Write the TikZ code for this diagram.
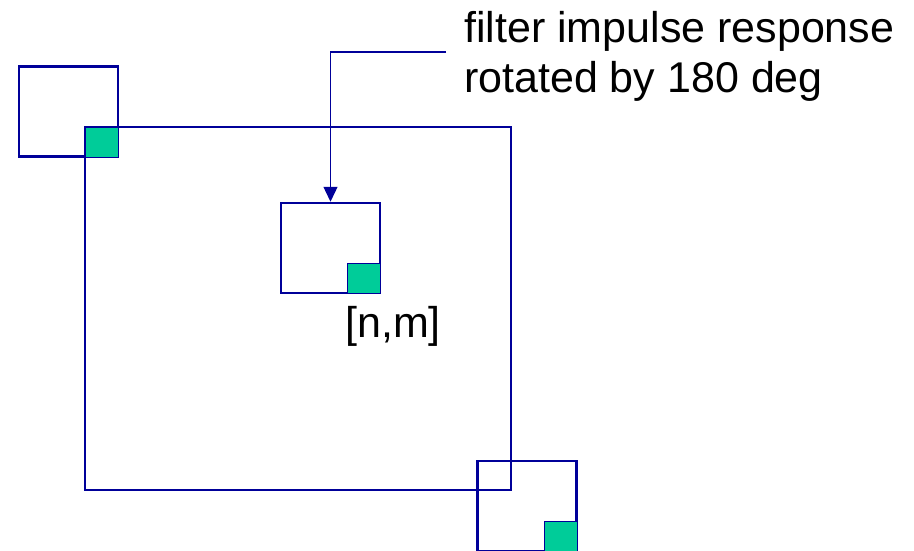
\documentclass[tikz,border=0pt]{standalone}
\usepackage{fontspec}
\setmainfont{Liberation Sans}
\usepackage{xcolor}
\usetikzlibrary{arrows.meta}
\definecolor{tnavy}{HTML}{000099}
\definecolor{tmint}{HTML}{00CC99}

\begin{document}
\begin{tikzpicture}[x=1pt, y=-1pt,
    frame/.style={draw=tnavy, line width=2.5pt, inner sep=0pt},
    kbox/.style={frame, minimum width=99pt, minimum height=90pt},
    pix/.style={draw=tnavy, line width=1pt, fill=tmint, inner sep=0pt,
                minimum width=33pt, minimum height=30pt, anchor=south east},
    lbl/.style={font=\fontsize{43}{50}\selectfont, inner sep=0pt, align=left},
    pointer/.style={draw=tnavy, line width=1.3pt, -{Triangle[width=14pt,length=15pt]}}]
    \useasboundingbox (0,0) rectangle (914,550);

    % image
    \node[frame, minimum width=426pt, minimum height=363pt] (img) at (298,308.5) {};

    % --- kernel at three places --------------------------------------------
    \node[kbox] (ktl) at (68.5,111.5) {};
    \node[kbox] (kmid) at (330.5,248) {};
    \node[kbox] (kbr) at (527,506) {};
    \node[pix] (ptl) at (ktl.south east) {};
    \node[pix] (pmid) at (kmid.south east) {};
    \node[pix] (pbr) at (kbr.south east) {};

    % labels
    \node[lbl, anchor=north west] (note) at (464,11) {filter impulse response\\rotated by 180 deg};
    \node[lbl, anchor=base west] (nm) at (345,337) {[n,m]};

    \coordinate (tail) at (446,52);
    \draw[pointer] (tail) -| (kmid.north);
\end{tikzpicture}
\end{document}
